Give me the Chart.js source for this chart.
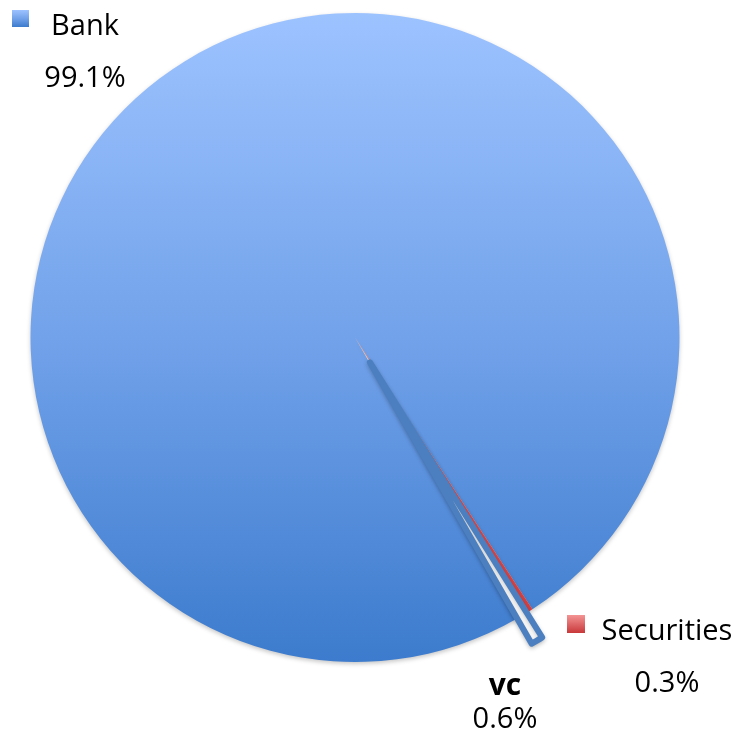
<!DOCTYPE html>
<html><head><meta charset="utf-8">
<script src="https://cdn.jsdelivr.net/npm/chart.js@4"></script>
<style>html,body{margin:0;padding:0;background:#fff}#wrap{width:742px;height:732px}</style>
</head><body>
<div id="wrap"><canvas id="c" width="742" height="732"></canvas></div>
<script>
// ---- data ----
const categories = ['Bank', 'Securities', 'vc'];
const shares = [99.1, 0.3, 0.6];
const percentLabels = ['99.1%', '0.3%', '0.6%'];

// ---- styling / layout (not data) ----
const PIE_RADIUS = 324.5;
const EXPLODE = [0, 0, 29];   // px pulled out along each slice's bisector
const labelLayout = [
  { marker: [12, 10, 17, 17], nameX: 85, nameY: 35, pctX: 85, pctY: 87, bold: false },
  { marker: [567, 615, 18, 18], nameX: 667, nameY: 640, pctX: 667, pctY: 692, bold: false },
  { marker: null, nameX: 505, nameY: 695, pctX: 505, pctY: 728, bold: true }
];

function vGrad(ctx, y0, y1, stops) {
  const g = ctx.createLinearGradient(0, y0, 0, y1);
  stops.forEach(s => g.addColorStop(s[0], s[1]));
  return g;
}
const blueStops = [[0, '#9DC3FF'], [0.5, '#72A2EA'], [1, '#3C7BCD']];
const redStops = [[0, '#F49494'], [1, '#C8383A']];

function sliceFill(c) {
  const chart = c.chart, a = chart.chartArea;
  if (!a) return '#6C9FE6';
  const cy = (a.top + a.bottom) / 2;
  if (c.dataIndex === 0) return vGrad(chart.ctx, cy - PIE_RADIUS, cy + PIE_RADIUS, blueStops);
  if (c.dataIndex === 1) return vGrad(chart.ctx, cy - PIE_RADIUS, cy + PIE_RADIUS, [[0, '#F08080'], [1, '#D2393B']]);
  return '#FFFFFF';
}

// pull slices out along their bisector without narrowing them
const explodePlugin = {
  id: 'explode',
  afterDatasetsUpdate(chart) {
    const meta = chart.getDatasetMeta(0);
    meta.data.forEach((arc, i) => {
      const d = EXPLODE[i] || 0;
      if (!d) return;
      const mid = (arc.startAngle + arc.endAngle) / 2;
      arc.x += Math.cos(mid) * d;
      arc.y += Math.sin(mid) * d;
    });
  }
};

const shadowPlugin = {
  id: 'shadow',
  beforeDatasetsDraw(chart) {
    const ctx = chart.ctx;
    ctx.save();
    ctx.shadowColor = 'rgba(0,0,0,0.22)';
    ctx.shadowBlur = 4;
    ctx.shadowOffsetY = 2;
  },
  afterDatasetsDraw(chart) { chart.ctx.restore(); }
};

const labelPlugin = {
  id: 'sliceLabels',
  afterDraw(chart) {
    const ctx = chart.ctx;
    ctx.save();
    ctx.textAlign = 'center';
    ctx.textBaseline = 'alphabetic';
    categories.forEach((name, i) => {
      const L = labelLayout[i];
      if (L.marker) {
        const [x, y, w, h] = L.marker;
        ctx.fillStyle = vGrad(ctx, y, y + h, i === 0 ? blueStops : redStops);
        ctx.fillRect(x, y, w, h);
      }
      ctx.fillStyle = '#000';
      ctx.font = (L.bold ? 'bold 30px' : '29px') + ' "Open Sans", "Noto Sans", sans-serif';
      ctx.fillText(name, L.nameX, L.nameY);
      ctx.font = '29px "Open Sans", "Noto Sans", sans-serif';
      ctx.fillText(percentLabels[i], L.pctX, L.pctY);
    });
    ctx.restore();
  }
};

new Chart(document.getElementById('c'), {
  type: 'pie',
  data: {
    labels: categories,
    datasets: [{
      data: shares,
      backgroundColor: sliceFill,
      borderColor: ['rgba(0,0,0,0)', 'rgba(0,0,0,0)', '#4B7FBF'],
      borderWidth: [0, 0, 6],
      borderAlign: 'center',
      borderJoinStyle: 'round'
    }]
  },
  options: {
    responsive: false,
    animation: false,
    rotation: 150.1,
    radius: PIE_RADIUS,
    layout: { padding: { left: 0, right: 32, top: 0, bottom: 57 } },
    plugins: { legend: { display: false }, tooltip: { enabled: false } }
  },
  plugins: [explodePlugin, shadowPlugin, labelPlugin]
});
</script>
</body></html>
